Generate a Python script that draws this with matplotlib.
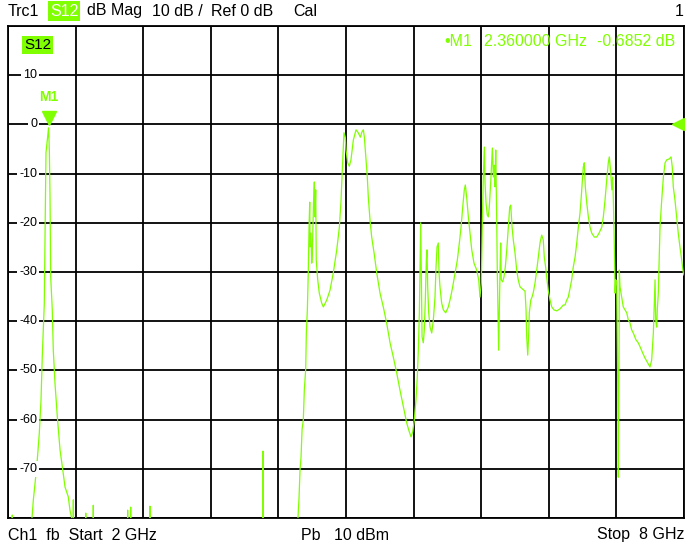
import matplotlib
matplotlib.use("Agg")
import matplotlib.pyplot as plt
import numpy as np

plt.rcParams["font.family"] = ["Liberation Sans", "DejaVu Sans"]

GREEN = "#80ff00"

# Trace data: S12 magnitude (dB) vs frequency (GHz)
freq_ghz = [
    2.000, 2.034, 2.038, 2.042, 2.209, 2.213, 2.225, 2.255, 2.278, 2.293,
    2.304, 2.322, 2.337, 2.360, 2.367, 2.373, 2.379, 2.393, 2.402, 2.417,
    2.438, 2.462, 2.486, 2.506, 2.535, 2.550, 2.565, 2.570, 2.577, 2.580,
    2.583, 2.687, 2.690, 2.693, 2.754, 2.757, 2.760, 3.059, 3.062, 3.065,
    3.086, 3.089, 3.092, 3.257, 3.260, 3.263, 4.260, 4.263, 4.266,
    4.571, 4.574, 4.577, 4.583, 4.592, 4.601, 4.610, 4.621, 4.630, 4.642,
    4.648, 4.657, 4.665, 4.672, 4.678, 4.681, 4.689, 4.696, 4.701, 4.713,
    4.719, 4.725, 4.731, 4.736, 4.749, 4.763, 4.784, 4.799, 4.829, 4.858,
    4.887, 4.918, 4.941, 4.956, 4.967, 4.982, 4.994, 5.000, 5.015, 5.029,
    5.044, 5.065, 5.089, 5.109, 5.127, 5.142, 5.154, 5.163, 5.178, 5.189,
    5.198, 5.213, 5.228, 5.249, 5.273, 5.302, 5.331, 5.361, 5.391, 5.420,
    5.450, 5.479, 5.509, 5.539, 5.562, 5.577, 5.592, 5.606, 5.621, 5.633,
    5.642, 5.651, 5.657, 5.663, 5.668, 5.675, 5.686, 5.695, 5.704, 5.713,
    5.719, 5.725, 5.734, 5.746, 5.761, 5.775, 5.790, 5.799, 5.808, 5.819,
    5.826, 5.834, 5.849, 5.864, 5.885, 5.908, 5.929, 5.947, 5.968, 5.988,
    6.006, 6.021, 6.036, 6.050, 6.059, 6.071, 6.086, 6.101, 6.116, 6.136,
    6.160, 6.178, 6.189, 6.201, 6.210, 6.219, 6.228, 6.234, 6.243, 6.254,
    6.263, 6.272, 6.284, 6.293, 6.299, 6.308, 6.316, 6.323, 6.329, 6.338,
    6.343, 6.349, 6.355, 6.361, 6.367, 6.373, 6.378, 6.391, 6.402, 6.414,
    6.427, 6.441, 6.453, 6.462, 6.474, 6.485, 6.500, 6.515, 6.529, 6.544,
    6.568, 6.589, 6.598, 6.604, 6.613, 6.622, 6.627, 6.640, 6.651, 6.663,
    6.678, 6.693, 6.707, 6.722, 6.737, 6.751, 6.760, 6.772, 6.781, 6.795,
    6.811, 6.826, 6.846, 6.870, 6.899, 6.929, 6.944, 6.959, 6.973, 7.003,
    7.017, 7.033, 7.048, 7.062, 7.077, 7.086, 7.098, 7.106, 7.115, 7.124,
    7.137, 7.151, 7.166, 7.181, 7.204, 7.225, 7.246, 7.270, 7.284, 7.299,
    7.314, 7.328, 7.337, 7.350, 7.359, 7.367, 7.373, 7.379, 7.385, 7.388,
    7.394, 7.403, 7.408, 7.412, 7.417, 7.423, 7.426, 7.432, 7.447, 7.461,
    7.476, 7.492, 7.506, 7.521, 7.536, 7.550, 7.574, 7.594, 7.610, 7.634,
    7.654, 7.674, 7.698, 7.713, 7.728, 7.737, 7.743, 7.749, 7.758, 7.763,
    7.772, 7.778, 7.787, 7.802, 7.817, 7.832, 7.847, 7.870, 7.885, 7.896,
    7.905, 7.920, 7.935, 7.949, 7.964, 7.980, 7.994, 8.000,
]
s12_db = [
    -86.0, -86.0, -79.4, -86.0, -86.0, -80.0, -76.3, -69.6, -62.7, -56.0,
    -47.3, -36.5, -5.8, -0.7, -5.2, -14.8, -31.0, -37.7, -45.9, -52.6,
    -59.5, -66.2, -70.2, -73.7, -75.7, -78.4, -80.0, -86.0, -86.0, -76.3,
    -86.0, -86.0, -79.0, -86.0, -86.0, -77.4, -86.0, -86.0, -78.4, -86.0,
    -86.0, -77.8, -86.0, -86.0, -77.6, -86.0, -86.0, -66.4, -86.0,
    -86.0, -80.0, -78.4, -76.0, -70.2, -67.6, -62.0, -60.1, -54.0, -49.9,
    -42.4, -37.7, -30.2, -20.9, -15.8, -24.9, -22.1, -28.2, -26.1, -14.8,
    -11.7, -18.8, -13.3, -27.6, -31.6, -34.3, -36.3, -37.1, -35.7, -33.7,
    -30.2, -25.5, -20.9, -15.4, -9.3, -1.7, -2.6, -5.2, -7.8, -8.5,
    -7.2, -3.2, -1.1, -1.7, -2.6, -1.5, -1.1, -2.6, -7.2, -10.7,
    -14.8, -19.4, -22.9, -26.1, -30.2, -34.3, -37.1, -40.4, -44.4, -47.3,
    -50.5, -54.0, -57.4, -60.7, -62.5, -63.5, -62.5, -60.1, -56.0, -51.3,
    -45.9, -38.3, -29.6, -20.0, -29.0, -43.2, -44.4, -41.8, -35.7, -27.6,
    -25.5, -33.0, -38.3, -41.2, -42.4, -39.8, -35.1, -29.0, -24.9, -24.1,
    -30.2, -33.0, -36.3, -37.7, -38.3, -37.1, -35.1, -33.0, -30.2, -27.6,
    -24.1, -20.9, -16.8, -13.3, -12.3, -14.8, -18.8, -22.1, -25.5, -28.2,
    -29.6, -31.6, -35.1, -32.2, -20.0, -10.7, -4.6, -11.9, -16.0, -18.4,
    -18.8, -16.8, -11.9, -7.6, -4.8, -10.7, -8.3, -12.7, -5.2, -20.0,
    -30.2, -37.7, -45.9, -37.7, -29.6, -24.1, -31.6, -32.0, -31.0, -29.0,
    -25.5, -20.9, -16.8, -16.4, -20.9, -23.5, -26.1, -29.6, -31.6, -33.0,
    -33.5, -33.9, -37.7, -43.2, -46.9, -42.4, -38.3, -35.7, -35.1, -34.1,
    -32.2, -29.6, -27.0, -24.1, -22.5, -23.5, -27.0, -29.0, -31.0, -33.7,
    -35.7, -37.1, -37.7, -37.9, -37.5, -36.7, -36.7, -35.7, -35.1, -31.6,
    -29.0, -27.0, -24.1, -20.9, -18.0, -15.4, -11.3, -8.7, -7.8, -12.7,
    -16.0, -18.8, -20.9, -22.1, -22.9, -22.9, -22.1, -20.9, -18.8, -15.4,
    -11.3, -7.8, -6.6, -9.9, -13.3, -10.7, -15.4, -21.5, -29.0, -34.3,
    -31.6, -32.0, -42.4, -52.6, -71.7, -49.3, -29.6, -33.0, -35.1, -37.1,
    -37.7, -38.3, -39.8, -40.4, -41.8, -42.4, -43.8, -44.4, -45.2, -46.5,
    -47.5, -48.3, -49.3, -47.9, -42.4, -35.7, -31.6, -39.8, -41.2, -37.7,
    -34.3, -29.0, -20.9, -15.4, -10.7, -7.8, -7.2, -7.0, -6.6, -8.7,
    -12.7, -15.4, -18.8, -22.1, -24.9, -27.6, -30.2, -30.6,
]

y_ticks = [10, 0, -10, -20, -30, -40, -50, -60, -70]
marker_freq = 2.36
marker_db = -0.6852

fig = plt.figure(figsize=(6.91, 5.50), dpi=100)
W, H = 691, 550
ax = fig.add_axes([8 / W, 32 / H, 676 / W, 492 / H])

ax.set_xlim(2, 8)
ax.set_ylim(-80, 20)
ax.set_xticks(np.linspace(2, 8, 11))
ax.set_yticks(np.arange(-80, 21, 10))
ax.set_xticklabels([])
ax.set_yticklabels([])
ax.tick_params(length=0)
ax.grid(True, color="black", linewidth=1.3)
ax.set_axisbelow(True)
for sp in ax.spines.values():
    sp.set_linewidth(1.3)
    sp.set_color("black")

ax.plot(freq_ghz, s12_db, color=GREEN, linewidth=0.9, zorder=3)

# y labels drawn inside the grid, with a white patch cutting the gridline
for v in y_ticks:
    ax.text(0.0429, v, str(v), transform=ax.get_yaxis_transform(),
            ha="right", va="center", fontsize=9, zorder=4,
            bbox=dict(facecolor="white", edgecolor="none", pad=1.5))

# marker M1 and reference level arrow
ax.plot([marker_freq], [1.2], marker="v", markersize=9.5, color=GREEN,
        linestyle="none", zorder=5, clip_on=False)
ax.text(marker_freq, 4.2, "M1", ha="center", va="bottom", fontsize=10,
        fontweight="bold", color=GREEN, zorder=5)
ax.plot([7.947], [0], marker="<", markersize=9, color=GREEN,
        linestyle="none", zorder=5, clip_on=False)

# trace name box and marker readout
fig.text(24 / W, 1 - 45 / H, "S12", ha="left", va="center", fontsize=11,
         color="black", bbox=dict(facecolor=GREEN, edgecolor="none", pad=1.2))
fig.text(444 / W, 1 - 42 / H, "\u2022M1", ha="left", va="center",
         fontsize=11.5, color=GREEN)
fig.text(484 / W, 1 - 42 / H, "%.6f GHz" % marker_freq, ha="left",
         va="center", fontsize=11.5, color=GREEN)
fig.text(675 / W, 1 - 42 / H, "%.4f dB" % marker_db, ha="right",
         va="center", fontsize=11.5, color=GREEN)

# header line
hy = 1 - 11 / H
fig.text(8 / W, hy, "Trc1", ha="left", va="center", fontsize=11.5)
fig.text(50 / W, hy, "S12", ha="left", va="center", fontsize=11.5,
         color="white", bbox=dict(facecolor=GREEN, edgecolor="none", pad=1.5))
fig.text(87 / W, hy, "dB Mag", ha="left", va="center", fontsize=11.5)
fig.text(152 / W, hy, "10 dB /", ha="left", va="center", fontsize=11.5)
fig.text(211 / W, hy, "Ref 0 dB", ha="left", va="center", fontsize=11.5)
fig.text(293 / W, hy, "Cal", ha="left", va="center", fontsize=11.5)
fig.text(684 / W, hy, "1", ha="right", va="center", fontsize=11.5)

# footer line
fy = 1 - 535 / H
fig.text(8 / W, fy, "Ch1  fb  Start  2 GHz", ha="left", va="center", fontsize=11.5)
fig.text(301 / W, fy, "Pb   10 dBm", ha="left", va="center", fontsize=11.5)
fig.text(684 / W, fy, "Stop  8 GHz", ha="right", va="center", fontsize=11.5)

fig.savefig("out.png", dpi=100, facecolor="white")
